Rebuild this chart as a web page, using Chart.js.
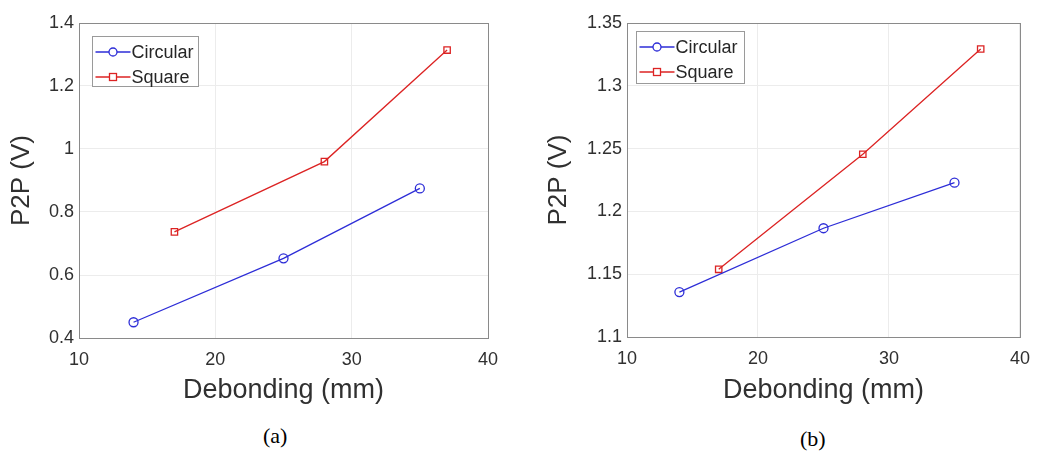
<!DOCTYPE html>
<html>
<head>
<meta charset="utf-8">
<script src="https://cdn.jsdelivr.net/npm/chart.js@4/dist/chart.umd.min.js"></script>
<style>
  body { margin: 0; background: #fff; width: 1041px; height: 452px; position: relative; overflow: hidden; }
  .wrap { position: absolute; top: 0; height: 410px; }
  .cap { position: absolute; font: 22px "Liberation Serif", "DejaVu Serif", serif; color: #000; }
</style>
</head>
<body>
<div class="wrap" style="left:0;width:520px"><canvas id="chart-a"></canvas></div>
<div class="wrap" style="left:520px;width:521px"><canvas id="chart-b"></canvas></div>
<div class="cap" style="left:263px;top:423px">(a)</div>
<div class="cap" style="left:800px;top:426px">(b)</div>
<script>
// values
const seriesNames = ['Circular', 'Square'];
const circularDebond = [14, 25, 35];
const squareDebond = [17, 28, 37];

const circularA = [0.45, 0.653, 0.875];
const squareA = [0.737, 0.96, 1.314];
const ticksA = [0.4, 0.6, 0.8, 1, 1.2, 1.4];

const circularB = [1.1358, 1.1866, 1.2229];
const squareB = [1.1539, 1.2455, 1.3293];
const ticksB = [1.1, 1.15, 1.2, 1.25, 1.3, 1.35];

const xTicks = [10, 20, 30, 40];

const BLUE = 'rgb(45,45,215)';
const RED = 'rgb(220,35,35)';
const FONT = '"Liberation Sans", Arial, sans-serif';

function drawMarker(g, style, x, y) {
  g.fillStyle = '#fff';
  if (style === 'circle') {
    g.beginPath(); g.arc(x, y, 4, 0, Math.PI * 2); g.fill(); g.stroke();
  } else {
    g.fillRect(x - 3.5, y - 3.5, 7, 7); g.strokeRect(x - 3.5, y - 3.5, 7, 7);
  }
}

// axes box + MATLAB-style legend inside the top-left corner
const framePlugin = {
  id: 'frame',
  afterDraw(chart, args, o) {
    const { ctx, chartArea: a } = chart;
    ctx.save();
    ctx.strokeStyle = '#8a8a8a';
    ctx.lineWidth = 1;
    ctx.strokeRect(a.left + 0.5, a.top + 0.5, a.right - a.left, a.bottom - a.top);

    const bx = Math.round(a.left + o.dx) + 0.5;
    const by = Math.round(a.top + o.dy) + 0.5;
    ctx.fillStyle = '#fff';
    ctx.fillRect(bx, by, o.w, o.h);
    ctx.strokeStyle = '#9a9a9a';
    ctx.strokeRect(bx, by, o.w, o.h);

    ctx.font = '18px ' + FONT;
    ctx.textBaseline = 'middle';
    chart.data.datasets.forEach((d, i) => {
      const y = by + 15.5 + i * 25;
      ctx.strokeStyle = d.borderColor;
      ctx.lineWidth = 1.3;
      ctx.beginPath(); ctx.moveTo(bx + 3, y); ctx.lineTo(bx + 38, y); ctx.stroke();
      drawMarker(ctx, d.pointStyle, bx + 20.5, y);
      ctx.fillStyle = '#262626';
      ctx.fillText(d.label, bx + 39, y + 1);
    });
    ctx.restore();
  },
};

function makeChart(id, circ, sq, yTicks, opts) {
  const ctx = document.getElementById(id);
  return new Chart(ctx, {
    type: 'line',
    data: {
      datasets: [
        {
          label: seriesNames[0],
          data: circularDebond.map((x, i) => ({ x, y: circ[i] })),
          borderColor: BLUE, backgroundColor: 'rgba(255,255,255,0)',
          borderWidth: 1.3, pointStyle: 'circle', pointRadius: 4.5,
          pointBorderWidth: 1.3, pointBackgroundColor: 'rgba(255,255,255,0)',
        },
        {
          label: seriesNames[1],
          data: squareDebond.map((x, i) => ({ x, y: sq[i] })),
          borderColor: RED, backgroundColor: 'rgba(255,255,255,0)',
          borderWidth: 1.3, pointStyle: 'rect', pointRadius: 4.5,
          pointBorderWidth: 1.3, pointBackgroundColor: 'rgba(255,255,255,0)',
        },
      ],
    },
    options: {
      responsive: true,
      maintainAspectRatio: false,
      animation: false,
      layout: { padding: { top: 23, right: opts.padRight, left: 0, bottom: 0 } },
      plugins: {
        tooltip: { enabled: false },
        legend: { display: false },
        frame: opts.legend,
      },
      scales: {
        x: {
          type: 'linear',
          min: 10, max: 40,
          afterBuildTicks: (s) => { s.ticks = xTicks.map(v => ({ value: v })); },
          afterFit: (s) => { s.height = 410 - opts.bottom; },
          border: { color: '#8a8a8a' },
          grid: { color: '#ececec', drawTicks: false },
          ticks: { color: '#303030', font: { family: FONT, size: 18 }, padding: 11 },
          title: {
            display: true, text: 'Debonding (mm)', color: '#303030',
            font: { family: FONT, size: 27 }, padding: { bottom: 3 },
          },
        },
        y: {
          min: yTicks[0], max: yTicks[yTicks.length - 1],
          afterBuildTicks: (s) => { s.ticks = yTicks.map(v => ({ value: v })); },
          afterFit: (s) => { s.width = opts.left; },
          border: { color: '#8a8a8a' },
          grid: { color: '#ececec', drawTicks: false },
          ticks: {
            color: '#303030', font: { family: FONT, size: 18 }, padding: 5,
            callback: (v) => String(v),
          },
          title: {
            display: true, text: 'P2P (V)', color: '#303030',
            font: { family: FONT, size: 26 }, padding: { top: opts.titlePad },
          },
        },
      },
    },
    plugins: [framePlugin],
  });
}

makeChart('chart-a', circularA, squareA, ticksA,
  { left: 79, padRight: 32, bottom: 338, titlePad: 6, legend: { dx: 13, dy: 13, w: 106, h: 50 } });
makeChart('chart-b', circularB, squareB, ticksB,
  { left: 107, padRight: 18, bottom: 337, titlePad: 23, legend: { dx: 9, dy: 8, w: 108, h: 52 } });
</script>
</body>
</html>
